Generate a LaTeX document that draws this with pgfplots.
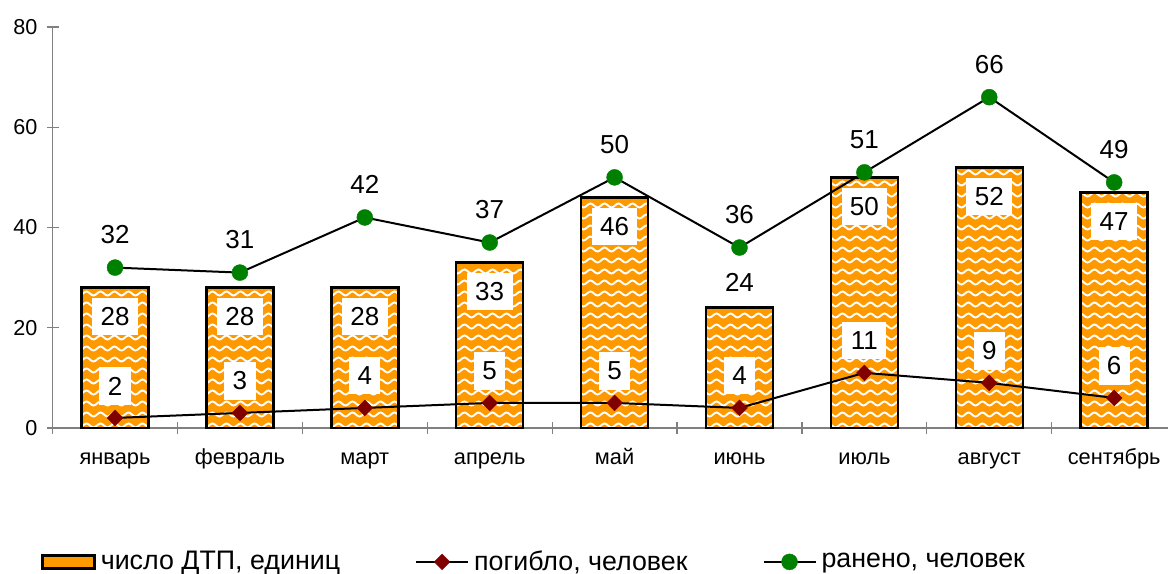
\documentclass[border=0pt]{standalone}
\usepackage{fontspec}
\setmainfont{Liberation Sans}
\usepackage{pgfplots}
\pgfplotsset{compat=1.18}
\usetikzlibrary{patterns.meta}
\definecolor{barorange}{HTML}{FF9900}
\definecolor{killred}{HTML}{800000}
\definecolor{injgreen}{HTML}{008000}
\tikzdeclarepattern{
  name=wavy, type=uncolored,
  bounding box={(0pt,0pt) and (7pt,5.5pt)},
  tile size={(7pt,5.5pt)},
  code={\draw[line width=0.95pt] (-1.75pt,1.75pt) cos (0pt,2.75pt) sin (1.75pt,3.75pt) cos (3.5pt,2.75pt) sin (5.25pt,1.75pt) cos (7pt,2.75pt) sin (8.75pt,3.75pt);}
}
\begin{document}
\begin{tikzpicture}
\begin{axis}[
  scale only axis, width=562.05pt, height=200.5pt,
  xmin=-0.5, xmax=8.5, ymin=0, ymax=80,
  axis x line=bottom, axis y line=left,
  axis line style={-, draw=black!50, line width=0.6pt},
  tick style={draw=black!50, line width=0.6pt},
  tick align=center,
  major tick length=6pt,
  xtick={-0.5,0.5,...,8.5}, xticklabels={,,,,,,,,,,,},
  extra x ticks={0,1,...,8},
  extra x tick labels={январь,февраль,март,апрель,май,июнь,июль,август,сентябрь},
  extra x tick style={tick style={draw=none}},
  x tick label style={font=\fontsize{10.9}{12}\selectfont, text height=0.75em, text depth=0.22em, anchor=north, yshift=-4pt},
  ytick={0,20,40,60,80},
  y tick label style={font=\fontsize{10.8}{12}\selectfont, xshift=-1pt},
  /pgf/number format/assume math mode=true,
  clip=false,
  legend columns=3,
  legend style={at={(-0.0103,-0.334)}, anchor=west, draw=none, fill=none,
    inner xsep=0pt, inner ysep=0pt,
    font=\fontsize{13.4}{15}\selectfont,
    nodes={inner sep=2.5pt, anchor=west},
    /tikz/every even column/.append style={column sep=35pt}},
]
\coordinate (bbl) at (axis cs:-0.921,-29.13);
\coordinate (btr) at (axis cs:8.431,85.39);

\addplot[ybar, bar width=33.5pt, draw=black, line width=1.2pt,
  preaction={fill=barorange}, pattern=wavy, pattern color=white,
  legend image code/.code={
    \fill[barorange, draw=none] (0pt,-3.25pt) rectangle (26pt,3.25pt);
    \begin{scope}
      \clip (0pt,-3.25pt) rectangle (26pt,3.25pt);
      \foreach \i in {0,7,14,21} {
        \draw[white, line width=0.95pt] (\i pt,-0.3pt) sin ++(1.75pt,1pt) cos ++(1.75pt,-1pt) sin ++(1.75pt,-1pt) cos ++(1.75pt,1pt);
      }
    \end{scope}
    \draw[black, line width=1pt, fill=none] (0pt,-3.25pt) rectangle (26pt,3.25pt);}]
  coordinates {(0,28) (1,28) (2,28) (3,33) (4,46) (5,24) (6,50) (7,52) (8,47)};
\addlegendentry{число ДТП, единиц}

\addplot[draw=none, mark=none, forget plot, nodes near coords, point meta=y,
  nodes near coords style={anchor=center, yshift=-14.5pt, fill=white, text=black,
    inner xsep=4.2pt, inner ysep=4.8pt, font=\fontsize{13}{15}\selectfont}]
  coordinates {(0,28) (1,28) (2,28) (3,33) (4,46) (6,50) (7,52) (8,47)};
\addplot[draw=none, mark=none, forget plot, nodes near coords, point meta=y,
  nodes near coords style={anchor=center, yshift=12.5pt, text=black,
    font=\fontsize{13}{15}\selectfont}]
  coordinates {(5,24)};

\addplot[black, line width=1pt, mark=square*, mark size=2.8pt,
  mark options={fill=killred, draw=killred, rotate=45, line width=0.2pt},
  nodes near coords, point meta=y,
  nodes near coords style={anchor=center, yshift=16pt, fill=white, text=black,
    inner xsep=4.2pt, inner ysep=4.8pt, font=\fontsize{13}{15}\selectfont},
  legend image code/.code={\draw[mark repeat=2,mark phase=2] plot coordinates {(0pt,0pt) (13pt,0pt) (26pt,0pt)};}]
  coordinates {(0,2) (1,3) (2,4) (3,5) (4,5) (5,4) (6,11) (7,9) (8,6)};
\addlegendentry{погибло, человек}

\addplot[black, line width=1pt, mark=*, mark size=4pt,
  mark options={fill=injgreen, draw=injgreen, line width=0.2pt},
  nodes near coords, point meta=y,
  nodes near coords style={anchor=center, yshift=16.5pt, text=black,
    font=\fontsize{13}{15}\selectfont},
  legend image code/.code={\draw[mark repeat=2,mark phase=2] plot coordinates {(0pt,0pt) (13pt,0pt) (26pt,0pt)};}]
  coordinates {(0,32) (1,31) (2,42) (3,37) (4,50) (5,36) (6,51) (7,66) (8,49)};
\addlegendentry{ранено, человек}
\end{axis}
\pgfresetboundingbox
\useasboundingbox (bbl) rectangle (btr);
\end{tikzpicture}
\end{document}
